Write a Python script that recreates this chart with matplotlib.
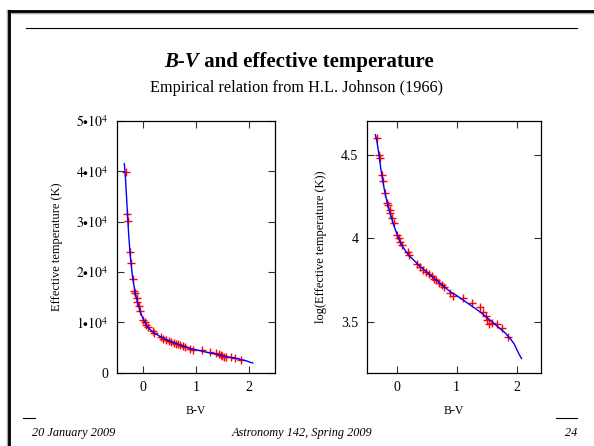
import matplotlib
matplotlib.use("Agg")
import matplotlib.pyplot as plt
import numpy as np
from matplotlib.lines import Line2D

plt.rcParams['font.family'] = ['Liberation Serif', 'DejaVu Serif']
plt.rcParams['mathtext.fontset'] = 'stix'

# Johnson (1966) table: B-V and log10(Teff)
bv_data = [-0.33, -0.30, -0.28, -0.25, -0.23, -0.20, -0.17, -0.15, -0.12, -0.11,
           -0.08, -0.05, 0.00, 0.03, 0.06, 0.09, 0.18, 0.21, 0.34, 0.38,
           0.44, 0.49, 0.53, 0.58, 0.62, 0.66, 0.70, 0.75, 0.79, 0.89,
           0.94, 1.11, 1.26, 1.38, 1.43, 1.48, 1.50, 1.54, 1.58, 1.67,
           1.75, 1.86]
logt_data = [4.60, 4.50, 4.48, 4.38, 4.34, 4.27, 4.21, 4.20, 4.17, 4.15,
             4.12, 4.09, 4.02, 4.00, 3.98, 3.96, 3.92, 3.90, 3.85, 3.83,
             3.815, 3.80, 3.79, 3.775, 3.76, 3.75, 3.735, 3.725, 3.71, 3.675,
             3.66, 3.645, 3.615, 3.59, 3.56, 3.535, 3.515, 3.49, 3.495, 3.49,
             3.465, 3.415]

# fitted relation (blue curve)
bv_fit = [-0.355, -0.33, -0.30, -0.27, -0.24, -0.20, -0.15, -0.10, -0.05, 0.00,
          0.05, 0.10, 0.20, 0.30, 0.40, 0.50, 0.60, 0.70, 0.80, 0.90,
          1.00, 1.10, 1.20, 1.30, 1.40, 1.50, 1.60, 1.70, 1.80, 1.90,
          1.96, 2.00, 2.04, 2.08]
logt_fit = [4.618, 4.58, 4.51, 4.43, 4.36, 4.28, 4.20, 4.14, 4.08, 4.03,
            3.985, 3.95, 3.90, 3.865, 3.83, 3.80, 3.77, 3.74, 3.71, 3.68,
            3.66, 3.635, 3.61, 3.585, 3.56, 3.53, 3.50, 3.47, 3.44, 3.40,
            3.37, 3.34, 3.31, 3.285]

lin_ticks = [0, 1e4, 2e4, 3e4, 4e4, 5e4]
lin_labels = ['0', r'$1{\bullet}10^4$', r'$2{\bullet}10^4$', r'$3{\bullet}10^4$',
              r'$4{\bullet}10^4$', r'$5{\bullet}10^4$']
log_ticks = [3.5, 4.0, 4.5]
log_labels = ['3.5', '4', '4.5']
x_ticks = [0, 1, 2]

W, H = 594, 446
fig = plt.figure(figsize=(W / 100, H / 100), dpi=100)
fig.patch.set_facecolor('white')


def fx(px):
    return px / W


def fy(py):
    return 1 - py / H


def style(ax):
    ax.tick_params(direction='in', top=True, right=True, length=5, width=0.8,
                   labelsize=10, color='#333333', pad=6)
    ax.tick_params(axis='y', pad=6)
    for s in ax.spines.values():
        s.set_linewidth(0.9)
    ax.set_xticks(x_ticks)
    ax.set_xlabel('B-V', fontsize=8.5, labelpad=8)


bv_data = np.array(bv_data)
logt_data = np.array(logt_data)
bv_fit = np.array(bv_fit)
logt_fit = np.array(logt_fit)

# left: linear temperature
ax1 = fig.add_axes([fx(116.7), fy(372.7), fx(275 - 116.7), (372.7 - 121) / H])
ax1.plot(bv_data, 10 ** logt_data, '+', color='red', ms=6, mew=1)
ax1.plot(bv_fit, 10 ** logt_fit, '-', color='blue', lw=1)
ax1.set_xlim(-0.5, 2.5)
ax1.set_ylim(0, 5e4)
ax1.set_yticks(lin_ticks)
ax1.set_yticklabels(lin_labels)
style(ax1)
ax1.set_ylabel('Effective temperature (K)', fontsize=9, labelpad=9)

# right: log temperature
ax2 = fig.add_axes([fx(366.7), fy(372.7), fx(540.7 - 366.7), (372.7 - 121) / H])
ax2.plot(bv_data, logt_data, '+', color='red', ms=6, mew=1)
ax2.plot(bv_fit, logt_fit, '-', color='blue', lw=1)
ax2.set_xlim(-0.5, 2.4)
ax2.set_ylim(3.2, 4.7)
ax2.set_yticks(log_ticks)
ax2.set_yticklabels(log_labels)
style(ax2)
ax2.set_ylabel('log(Effective temperature (K))', fontsize=9, labelpad=10)

# slide frame
fig.add_artist(Line2D([fx(8), 1], [fy(11.5), fy(11.5)], color='#aaaaaa', lw=2.5))
fig.add_artist(Line2D([fx(7.5), fx(7.5)], [0, fy(11)], color='#aaaaaa', lw=2.5))
fig.add_artist(Line2D([fx(8.5), 1], [fy(11), fy(11)], color='black', lw=2))
fig.add_artist(Line2D([fx(8.5), fx(8.5)], [0, fy(11)], color='black', lw=2))
fig.add_artist(Line2D([fx(26), fx(577)], [fy(28.3), fy(28.3)], color='black', lw=0.8))
fig.add_artist(Line2D([fx(23), fx(35)], [fy(418), fy(418)], color='black', lw=0.8))
fig.add_artist(Line2D([fx(556), fx(577)], [fy(418), fy(418)], color='black', lw=0.8))

# title: "B-V" bold italic, rest bold, centred as a whole
t1 = fig.text(0, fy(62), 'B-V', fontsize=15, fontweight='bold', style='italic',
              ha='left', va='center')
t2 = fig.text(0, fy(62), ' and effective temperature', fontsize=15,
              fontweight='bold', ha='left', va='center')
r = fig.canvas.get_renderer()
w1 = t1.get_window_extent(r).width
w2 = t2.get_window_extent(r).width
x0 = (W - w1 - w2) / 2 + 2
t1.set_x(fx(x0))
t2.set_x(fx(x0 + w1))

fig.text(fx(297), fy(88), 'Empirical relation from H.L. Johnson (1966)',
         fontsize=11.7, ha='center', va='center')

# footer
fig.text(fx(32), fy(433), '20 January 2009', fontsize=8.8, style='italic',
         ha='left', va='center')
fig.text(fx(302), fy(433), 'Astronomy 142, Spring 2009', fontsize=8.8,
         style='italic', ha='center', va='center')
fig.text(fx(571), fy(433), '24', fontsize=8.8, style='italic', ha='center',
         va='center')

fig.savefig('out.png', dpi=100)
